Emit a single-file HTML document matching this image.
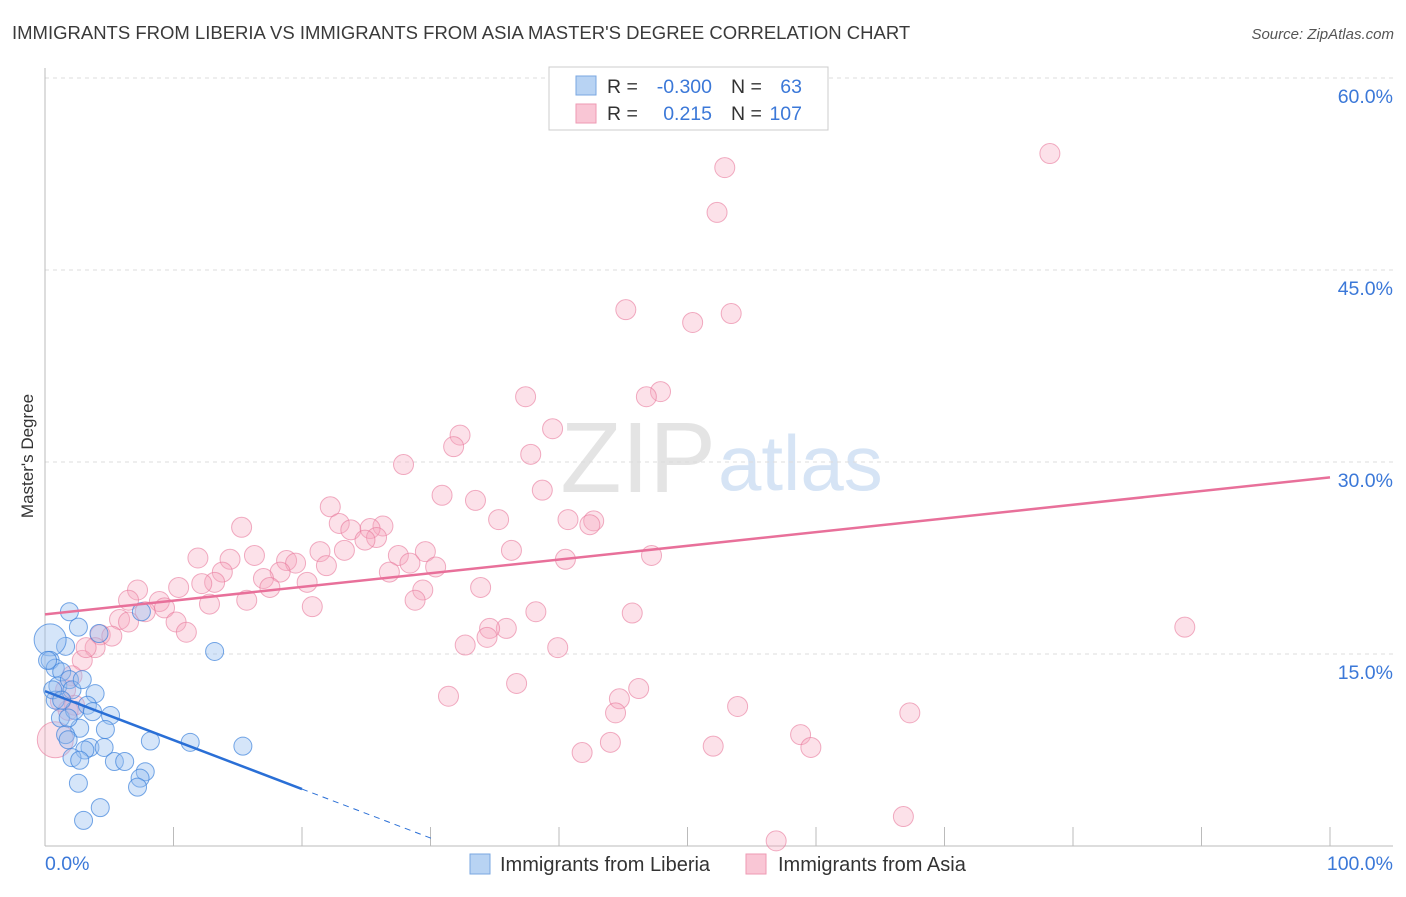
<!DOCTYPE html>
<html><head><meta charset="utf-8"><style>
body{margin:0;background:#fff;font-family:"Liberation Sans",sans-serif;}
svg text{font-family:"Liberation Sans",sans-serif;}
</style></head><body>
<svg id="chart" width="1406" height="892" xmlns="http://www.w3.org/2000/svg">
<text x="12" y="39" font-size="18.5" fill="#3a3a3a">IMMIGRANTS FROM LIBERIA VS IMMIGRANTS FROM ASIA MASTER'S DEGREE CORRELATION CHART</text>
<text x="1394" y="39" font-size="15" fill="#555" text-anchor="end" font-style="italic">Source: ZipAtlas.com</text>
<text x="716" y="492" font-size="100" fill="#e4e4e4" text-anchor="end" font-family="Liberation Serif">ZIP</text>
<text x="718" y="490" font-size="78" fill="#d6e4f5">atlas</text>
<g id="grid"></g>
<g id="axes"></g>
<g id="pts"></g>
<g id="lines"></g>
<text transform="translate(33,456) rotate(-90)" font-size="17" fill="#333" text-anchor="middle">Master's Degree</text>
<text x="45" y="870" font-size="19.5" fill="#3b78d8">0.0%</text>
<text x="1393" y="870" font-size="19.5" fill="#3b78d8" text-anchor="end">100.0%</text>
<g>
<rect x="549" y="67" width="279" height="63" fill="#fff" stroke="#ccc"/>
<rect x="576" y="76" width="20" height="19" fill="#b8d3f3" stroke="#7aa7e0"/>
<rect x="576" y="104" width="20" height="19" fill="#f9c6d5" stroke="#ee9ab3"/>
<text x="607" y="93" font-size="19.5" fill="#333">R = </text><text x="712" y="93" font-size="19.5" fill="#3b78d8" text-anchor="end">-0.300</text>
<text x="731" y="93" font-size="19.5" fill="#333">N = </text><text x="802" y="93" font-size="19.5" fill="#3b78d8" text-anchor="end">63</text>
<text x="607" y="120" font-size="19.5" fill="#333">R = </text><text x="712" y="120" font-size="19.5" fill="#3b78d8" text-anchor="end">0.215</text>
<text x="731" y="120" font-size="19.5" fill="#333">N = </text><text x="802" y="120" font-size="19.5" fill="#3b78d8" text-anchor="end">107</text>
</g>
<g><rect x="470" y="854" width="20" height="20" fill="#b8d3f3" stroke="#7aa7e0"/><text x="500" y="871" font-size="20" fill="#333">Immigrants from Liberia</text></g>
<g><rect x="746" y="854" width="20" height="20" fill="#f9c6d5" stroke="#ee9ab3"/><text x="778" y="871" font-size="20" fill="#333">Immigrants from Asia</text></g>
</svg>
<script>
const yTicks=[15,30,45,60];
const xTicks=[0,10,20,30,40,50,60,70,80,90,100];
const liberiaX=[1.9,2.6,1.6,4.2,0.4,0.4,0.8,1.3,1.0,1.9,2.1,3.9,1.2,2.3,3.3,3.7,5.1,2.7,4.7,1.6,1.8,3.5,4.6,3.1,2.1,2.7,5.4,6.2,7.8,7.4,8.2,11.3,15.4,13.2,7.5,2.6,4.3,3.0,7.2,0.8,0.6,0.2,1.3,2.9,1.8];
const liberiaY=[18.3,17.1,15.6,16.6,16.1,14.5,13.9,13.6,12.5,13.0,12.2,11.9,10.0,10.6,11.0,10.5,10.2,9.2,9.1,8.7,8.3,7.7,7.7,7.5,6.9,6.7,6.6,6.6,5.8,5.3,8.2,8.1,7.8,15.2,18.3,4.9,3.0,2.0,4.6,11.4,12.2,14.5,11.4,13.0,10.0];
const asiaX=[52.9,78.2,52.3,45.2,50.4,53.4,47.9,46.8,37.4,32.3,31.8,39.5,37.8,27.9,38.7,30.9,33.5,22.2,35.3,40.7,42.7,42.4,15.3,22.9,23.8,26.3,25.3,25.8,24.9,23.3,21.4,14.4,11.9,16.3,36.3,29.6,27.5,40.5,47.2,18.8,19.5,28.4,30.4,21.9,18.3,13.8,17.0,20.4,13.2,17.5,12.2,10.4,26.8,29.4,33.9,7.2,6.5,8.9,28.8,12.8,15.7,9.3,7.8,38.2,45.7,20.8,10.2,5.8,35.9,34.6,34.4,11.0,4.3,5.2,3.9,2.9,2.1,32.7,39.9,88.7,36.7,31.4,46.2,44.7,44.4,53.9,67.3,1.2,0.8,41.8,44.0,52.0,58.8,59.6,56.9,66.8,1.6,2.3,6.5,1.8,3.2];
const asiaY=[53.0,54.1,49.5,41.9,40.9,41.6,35.5,35.1,35.1,32.1,31.2,32.6,30.6,29.8,27.8,27.4,27.0,26.5,25.5,25.5,25.4,25.1,24.9,25.2,24.7,25.0,24.8,24.1,23.9,23.1,23.0,22.4,22.5,22.7,23.1,23.0,22.7,22.4,22.7,22.3,22.1,22.1,21.8,21.9,21.4,21.4,20.9,20.6,20.6,20.2,20.5,20.2,21.4,20.0,20.2,20.0,19.2,19.1,19.2,18.9,19.2,18.6,18.3,18.3,18.2,18.7,17.5,17.7,17.0,17.0,16.3,16.7,16.5,16.4,15.5,14.5,13.3,15.7,15.5,17.1,12.7,11.7,12.3,11.5,10.4,10.9,10.4,11.3,8.3,7.3,8.1,7.8,8.7,7.7,0.4,2.3,12.2,11.0,17.5,10.6,15.5];
const asiaTrend=[18.1,28.8];
const liberiaTrend=[12.1,4.45];
const liberiaTrendEnd=20;
const liberiaDashEnd=30.4;
const NS="http://www.w3.org/2000/svg";
const X=v=>45+v*12.85, Y=v=>846-v*12.8;
function mk(tag,attrs,parent){const e=document.createElementNS(NS,tag);for(const k in attrs)e.setAttribute(k,attrs[k]);parent.appendChild(e);return e;}
const grid=document.getElementById('grid'),axes=document.getElementById('axes'),pts=document.getElementById('pts'),lines=document.getElementById('lines');
yTicks.forEach(t=>{
 const l=mk('line',{x1:45,x2:1393,y1:Y(t),y2:Y(t),stroke:'#ddd','stroke-dasharray':'4,4'},grid);
 
 
 const tx=mk('text',{x:1393,y:Y(t)+25,'font-size':19.5,fill:'#3b78d8','text-anchor':'end'},grid);
 tx.textContent=t.toFixed(1)+'%';
 
 
});
const ya=mk('line',{x1:45,x2:45,y1:68,y2:846,stroke:'#bbb'},axes);


const xa=mk('line',{x1:45,x2:1393,y1:846,y2:846,stroke:'#bbb'},axes);


xTicks.forEach(t=>{const l=mk('line',{x1:X(t),x2:X(t),y1:827,y2:846,stroke:'#bbb'},axes);
 
 });
asiaX.forEach((x,i)=>{const c=mk('circle',{cx:X(x),cy:Y(asiaY[i]),r:(x<1.5&&asiaY[i]<9)?18:10,fill:'rgba(246,168,192,0.35)',stroke:'rgba(232,120,155,0.6)','stroke-width':1},pts);
 
 });
liberiaX.forEach((x,i)=>{const c=mk('circle',{cx:X(x),cy:Y(liberiaY[i]),r:(i==4)?16:9,fill:'rgba(150,190,240,0.4)',stroke:'rgba(60,130,220,0.7)','stroke-width':1},pts);
 
 });
const pl=mk('line',{x1:X(0),y1:Y(asiaTrend[0]),x2:X(100),y2:Y(asiaTrend[1]),stroke:'#e8709a','stroke-width':2.5},lines);


const slope=(liberiaTrend[1]-liberiaTrend[0])/liberiaTrendEnd;
const bl=mk('line',{x1:X(0),y1:Y(liberiaTrend[0]),x2:X(liberiaTrendEnd),y2:Y(liberiaTrend[1]),stroke:'#2a6fd6','stroke-width':2.5},lines);


const bd=mk('line',{x1:X(liberiaTrendEnd),y1:Y(liberiaTrend[1]),x2:X(liberiaDashEnd),y2:Y(liberiaTrend[0]+slope*liberiaDashEnd),stroke:'#2a6fd6','stroke-width':1,'stroke-dasharray':'6,5'},lines);


</script>
</body></html>
